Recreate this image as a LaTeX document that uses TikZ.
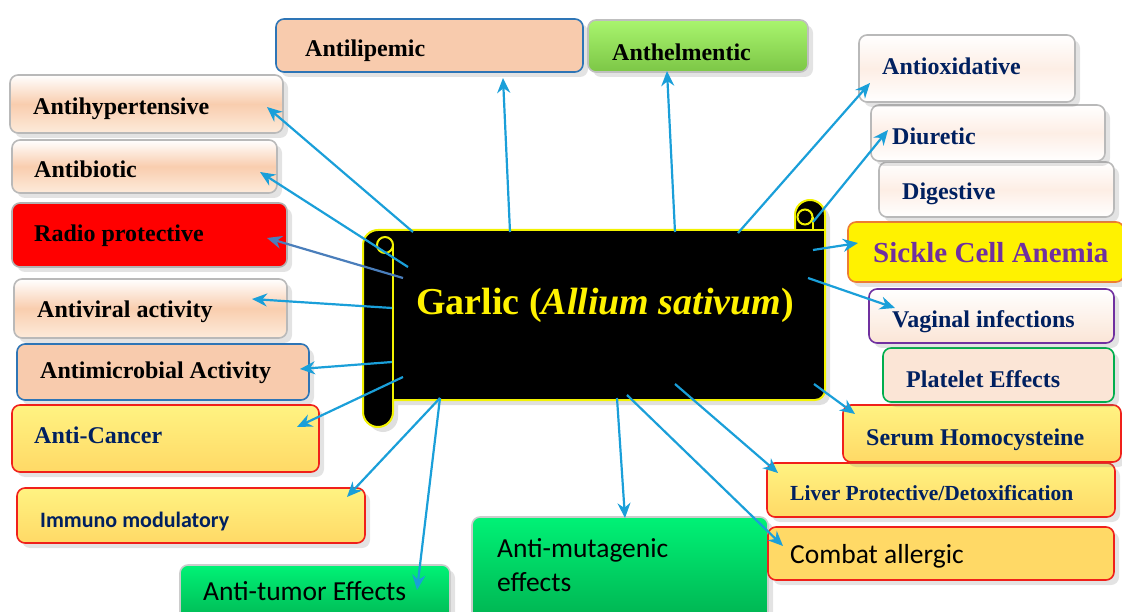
\documentclass[tikz,border=0pt]{standalone}
\usepackage{fontspec}
\setmainfont{Liberation Serif}
\newfontfamily\calibri{Carlito}
\usetikzlibrary{arrows.meta,shadows}
\definecolor{navy}{HTML}{002060}
\definecolor{purp}{HTML}{7030A0}
\definecolor{peachM}{HTML}{F9CDAE}
\definecolor{peachB}{HTML}{FDEBDB}
\definecolor{peachF}{HTML}{F8CBAD}
\definecolor{blueB}{HTML}{2E75B6}
\definecolor{grnT}{HTML}{A9F56E}
\definecolor{grnB}{HTML}{7CC646}
\definecolor{yelT}{HTML}{FFF382}
\definecolor{yelB}{HTML}{FFD966}
\definecolor{redB}{HTML}{F0201A}
\definecolor{gT}{HTML}{00F276}
\definecolor{gB}{HTML}{00AE4E}
\definecolor{orB}{HTML}{ED7D31}
\definecolor{pinkF}{HTML}{FBE5D6}
\definecolor{whM}{HTML}{FDEEE5}
\definecolor{arrC}{HTML}{1A9FD9}
\definecolor{arrR}{HTML}{4A7EBB}
\definecolor{scrY}{HTML}{F2F200}
\tikzset{
  bx/.style={rounded corners=8pt, line width=1.6pt, inner sep=0pt, outer sep=0pt, anchor=north west,
    drop shadow={opacity=0.22, shadow xshift=5pt, shadow yshift=-5pt}},
  peachbev/.style={draw=gray!55, top color=white, bottom color=peachB, middle color=peachM},
  whitebev/.style={draw=gray!55, top color=white, bottom color=white, middle color=whM},
  peachblue/.style={draw=blueB, fill=peachF},
  greenbev/.style={draw=gray!50, top color=grnT, bottom color=grnB},
  redbox/.style={draw=gray!60, fill=red},
  yelbev/.style={draw=redB, top color=yelT, bottom color=yelB},
  gbev/.style={draw=gray!40, top color=gT, bottom color=gB},
  lbl/.style={anchor=base west, inner sep=0pt, font=\fontsize{24}{27}\selectfont\bfseries},
  clbl/.style={anchor=base west, inner sep=0pt, font=\calibri\fontsize{27.5}{34}\selectfont},
  arr/.style={draw=arrC, line width=2.2pt, -{Stealth[length=15pt,width=13pt]}},
  scroll/.style={fill=black, draw=scrY, line width=2pt, line join=round}
}
\newcommand\mkbox[6]{\node[bx,#6,minimum width={(#4-#2)*1pt},minimum height={(#5-#3)*1pt}] (#1) at (#2,#3) {};}
\begin{document}
\begin{tikzpicture}[x=1pt,y=-1pt]
\useasboundingbox (0,0) rectangle (1122,612);
\clip (0,0) rectangle (1122,612);
% boxes
\mkbox{alip}{276}{19}{583}{72}{peachblue}
\mkbox{anth}{588}{20}{808}{72}{greenbev}
\mkbox{hyp}{10}{75}{283}{133}{peachbev}
\mkbox{abio}{12}{140}{277}{193}{peachbev}
\mkbox{radio}{12}{203}{287}{267}{redbox}
\mkbox{avir}{14}{279}{287}{338}{peachbev}
\mkbox{amic}{17}{344}{309}{400}{peachblue}
\mkbox{acan}{12}{405}{319}{472}{yelbev}
\mkbox{imm}{17}{488}{365}{543}{yelbev}
\mkbox{atum}{180}{565}{450}{630}{gbev}
\mkbox{amut}{472}{517}{768}{630}{gbev}
\mkbox{comb}{768}{527}{1114}{580}{draw=redB, fill=yelB}
\mkbox{liver}{767}{463}{1115}{517}{yelbev}
\mkbox{serum}{843}{405}{1121}{462}{yelbev}
\mkbox{plat}{883}{348}{1114}{402}{draw=gB, fill=pinkF}
\mkbox{vag}{869}{289}{1114}{343}{draw=purp, top color=white, bottom color=pinkF}
\mkbox{sick}{848}{222}{1124}{282}{draw=orB, fill=yellow}
\mkbox{dig}{879}{162}{1114}{217}{whitebev}
\mkbox{diur}{871}{105}{1105}{161}{whitebev}
\mkbox{aox}{859}{35}{1075}{102}{whitebev}
% scroll
\path[scroll, drop shadow={opacity=0.25, shadow xshift=5pt, shadow yshift=-5pt}]
  (363,412) -- (363,245) .. controls (363,236.7) and (369.7,230) .. (378,230)
  -- (795,230) -- (795,215) .. controls (795,206.7) and (801.7,200) .. (810,200)
  .. controls (818.3,200) and (825,206.7) .. (825,215)
  -- (825,390) .. controls (825,395.5) and (820.5,400) .. (815,400)
  -- (393,400) -- (393,412) .. controls (393,420.3) and (386.3,427) .. (378,427)
  .. controls (369.7,427) and (363,420.3) .. (363,412) -- cycle;
\draw[scrY, line width=2pt] (385,245) circle[radius=8];
\draw[scrY, line width=2pt] (393,245) -- (393,400);
\draw[scrY, line width=2pt] (805,217) circle[radius=7.5];
\draw[scrY, line width=2pt] (812.5,217) -- (812.5,230);
\draw[scrY, line width=2pt] (795,230) -- (825,230);
\node[anchor=base west, inner sep=0pt, text=yellow, font=\fontsize{38}{41}\selectfont\bfseries] (title) at (416,315) {Garlic (\textit{Allium sativum})};
% arrow coordinates
\coordinate (s1) at (413,232); \coordinate (e1) at (267,107);
\coordinate (s2) at (408,267); \coordinate (e2) at (260,172);
\coordinate (s3) at (403,278); \coordinate (e3) at (267,238);
\coordinate (s4) at (392,308); \coordinate (e4) at (252,299);
\coordinate (s5) at (392,362); \coordinate (e5) at (300,369);
\coordinate (s6) at (403,377); \coordinate (e6) at (297,427);
\coordinate (s7) at (440,398); \coordinate (e7) at (347,497);
\coordinate (e8) at (417,590);
\coordinate (s9) at (617,398); \coordinate (e9) at (625,518);
\coordinate (s10) at (627,395); \coordinate (e10) at (783,546);
\coordinate (s11) at (675,384); \coordinate (e11) at (778,473);
\coordinate (s12) at (814,384); \coordinate (e12) at (855,414);
\coordinate (s13) at (808,278); \coordinate (e13) at (895,308);
\coordinate (s14) at (813,250); \coordinate (e14) at (858,243);
\coordinate (s15) at (813,222); \coordinate (e15) at (888,130);
\coordinate (s16) at (738,233); \coordinate (e16) at (870,83);
\coordinate (s17) at (675,232); \coordinate (e17) at (667,71);
\coordinate (s18) at (510,232); \coordinate (e18) at (503,78);
\draw[arr] (s1) -- (e1);
\draw[arr] (s2) -- (e2);
\draw[arr, draw=arrR] (s3) -- (e3);
\draw[arr] (s4) -- (e4);
\draw[arr] (s5) -- (e5);
\draw[arr] (s6) -- (e6);
\draw[arr] (s7) -- (e7);
\draw[arr] (s7) -- (e8);
\draw[arr] (s9) -- (e9);
\draw[arr] (s10) -- (e10);
\draw[arr] (s11) -- (e11);
\draw[arr] (s12) -- (e12);
\draw[arr] (s13) -- (e13);
\draw[arr] (s14) -- (e14);
\draw[arr] (s15) -- (e15);
\draw[arr] (s16) -- (e16);
\draw[arr] (s17) -- (e17);
\draw[arr] (s18) -- (e18);
% labels
\node[lbl] (alipT) at (305,57) {Antilipemic};
\node[lbl] (anthT) at (612,61) {Anthelmentic};
\node[lbl] (hypT) at (33,115) {Antihypertensive};
\node[lbl] (abioT) at (34,178) {Antibiotic};
\node[lbl] (radioT) at (34,242) {Radio protective};
\node[lbl] (avirT) at (37,318) {Antiviral activity};
\node[lbl] (amicT) at (40,378) {Antimicrobial Activity};
\node[lbl, text=navy] (acanT) at (34,443) {Anti-Cancer};
\node[anchor=base west, inner sep=0pt, text=navy, font=\calibri\fontsize{22}{26}\selectfont\bfseries] (immT) at (40,527) {Immuno modulatory};
\node[clbl] (atumT) at (203,600) {Anti-tumor Effects};
\node[clbl, anchor=north west, align=left] (amutT) at (497,538) {Anti-mutagenic\\effects};
\node[clbl] (combT) at (790,563) {Combat allergic};
\node[lbl, text=navy, font=\fontsize{21.5}{24}\selectfont\bfseries] (liverT) at (790,500) {Liver Protective/Detoxification};
\node[lbl, text=navy] (serumT) at (866,445) {Serum Homocysteine};
\node[lbl, text=navy] (platT) at (906,387) {Platelet Effects};
\node[lbl, text=navy] (vagT) at (892,328) {Vaginal infections};
\node[lbl, text=purp, font=\fontsize{29}{32}\selectfont\bfseries] (sickT) at (873,263) {Sickle Cell Anemia};
\node[lbl, text=navy] (digT) at (902,200) {Digestive};
\node[lbl, text=navy] (diurT) at (892,145) {Diuretic};
\node[lbl, text=navy] (aoxT) at (882,75) {Antioxidative};
\end{tikzpicture}
\end{document}
